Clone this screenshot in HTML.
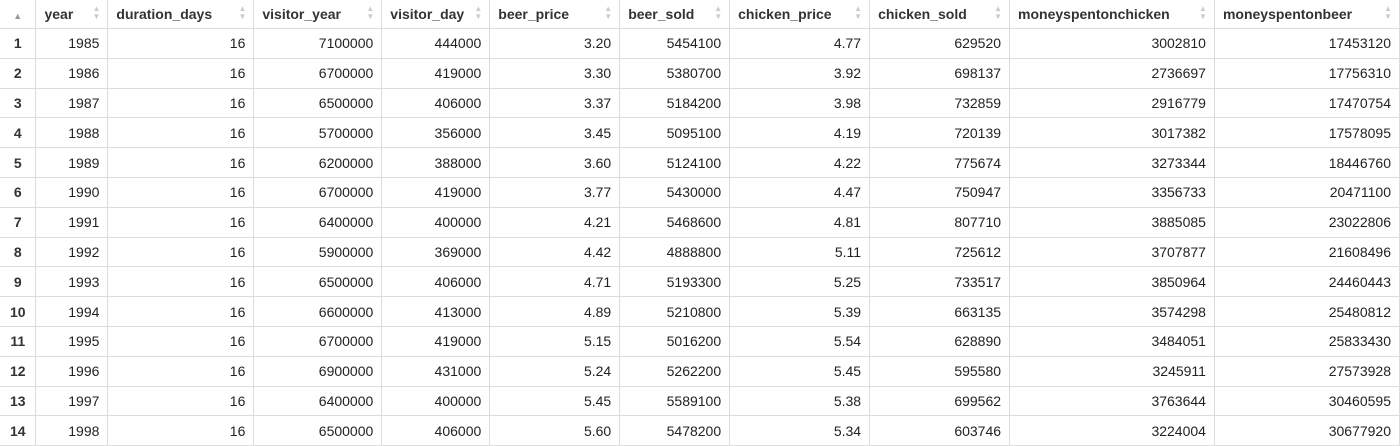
<!DOCTYPE html>
<html><head><meta charset="utf-8"><style>
body{margin:0;width:1400px;height:439px;overflow:hidden;background:#fff;font-family:"Liberation Sans",sans-serif;font-size:14px;color:#222}
table{border-collapse:collapse;table-layout:fixed;position:absolute;left:0;top:0}
td,th{border:1px solid #dcdcdc;padding:0 8px;height:28.8px;white-space:nowrap;overflow:hidden}
th{text-align:left;font-weight:bold;color:#333;position:relative;height:28px;border-top:none}
th .s{position:absolute;right:7px;top:5px;color:#ccc;font-size:8px;line-height:8px}
td{text-align:right}
td.rn{text-align:center;font-weight:bold;color:#333;padding:0}
th.rn{text-align:center;padding:0}
tr td:first-child,tr th:first-child{border-left:none}
</style></head><body>
<table id="t">
<colgroup><col style="width:36px"><col style="width:72px"><col style="width:146px"><col style="width:128px"><col style="width:108px"><col style="width:130px"><col style="width:110px"><col style="width:140px"><col style="width:140px"><col style="width:205px"><col style="width:185px"></colgroup>
<thead><tr>
<th class="rn"><span style="color:#999;font-size:9px">▲</span></th>
<th>year<span class="s">▲<br>▼</span></th>
<th>duration_days<span class="s">▲<br>▼</span></th>
<th>visitor_year<span class="s">▲<br>▼</span></th>
<th>visitor_day<span class="s">▲<br>▼</span></th>
<th>beer_price<span class="s">▲<br>▼</span></th>
<th>beer_sold<span class="s">▲<br>▼</span></th>
<th>chicken_price<span class="s">▲<br>▼</span></th>
<th>chicken_sold<span class="s">▲<br>▼</span></th>
<th>moneyspentonchicken<span class="s">▲<br>▼</span></th>
<th>moneyspentonbeer<span class="s">▲<br>▼</span></th>
</tr></thead>
<tbody id="tb"></tbody>
</table>
<script>
const years=[1985,1986,1987,1988,1989,1990,1991,1992,1993,1994,1995,1996,1997,1998];
const durationDays=[16,16,16,16,16,16,16,16,16,16,16,16,16,16];
const visitorYear=[7100000,6700000,6500000,5700000,6200000,6700000,6400000,5900000,6500000,6600000,6700000,6900000,6400000,6500000];
const visitorDay=[444000,419000,406000,356000,388000,419000,400000,369000,406000,413000,419000,431000,400000,406000];
const beerPrice=["3.20","3.30","3.37","3.45","3.60","3.77","4.21","4.42","4.71","4.89","5.15","5.24","5.45","5.60"];
const beerSold=[5454100,5380700,5184200,5095100,5124100,5430000,5468600,4888800,5193300,5210800,5016200,5262200,5589100,5478200];
const chickenPrice=["4.77","3.92","3.98","4.19","4.22","4.47","4.81","5.11","5.25","5.39","5.54","5.45","5.38","5.34"];
const chickenSold=[629520,698137,732859,720139,775674,750947,807710,725612,733517,663135,628890,595580,699562,603746];
const moneyChicken=[3002810,2736697,2916779,3017382,3273344,3356733,3885085,3707877,3850964,3574298,3484051,3245911,3763644,3224004];
const moneyBeer=[17453120,17756310,17470754,17578095,18446760,20471100,23022806,21608496,24460443,25480812,25833430,27573928,30460595,30677920];
const cols=[years,durationDays,visitorYear,visitorDay,beerPrice,beerSold,chickenPrice,chickenSold,moneyChicken,moneyBeer];
const names=['year','duration-days','visitor-year','visitor-day','beer-price','beer-sold','chicken-price','chicken-sold','money-spent-on-chicken','money-spent-on-beer'];
const tb=document.getElementById('tb');
for(let i=0;i<years.length;i++){
  const tr=document.createElement('tr');
  
  
  const rn=document.createElement('td');rn.className='rn';rn.textContent=i+1;
  
  
  tr.appendChild(rn);
  cols.forEach((c,j)=>{
    const td=document.createElement('td');td.textContent=c[i];
    
    
    tr.appendChild(td);
  });
  tb.appendChild(tr);
}
</script>
</body></html>
